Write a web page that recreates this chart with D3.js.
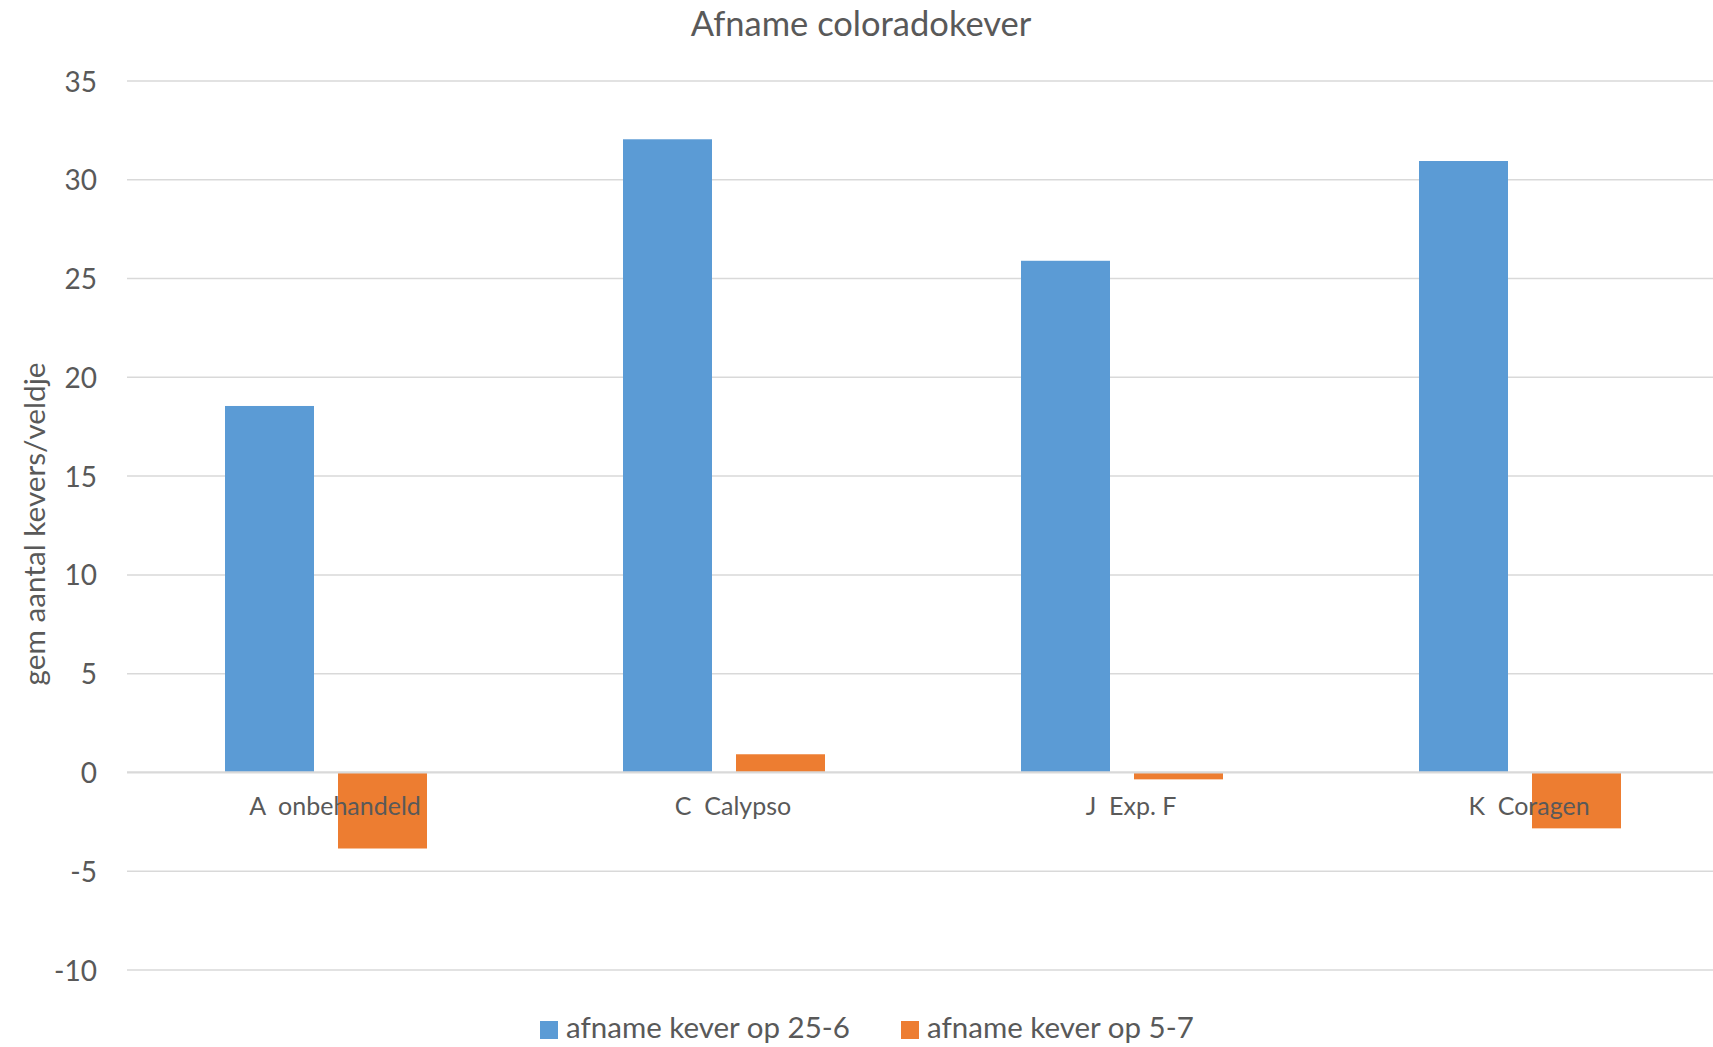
<!DOCTYPE html>
<html><head><meta charset="utf-8">
<script src="https://cdn.jsdelivr.net/npm/d3@7"></script>
<style>body{margin:0;background:#fff}svg{display:block}text{font-family:Lato,"Open Sans",sans-serif;fill:#595959}</style>
</head><body>
<svg id="c" width="1713" height="1047"></svg>
<script>
const categories = ["A  onbehandeld", "C  Calypso", "J  Exp. F", "K  Coragen"];
const seriesNames = ["afname kever op 25-6", "afname kever op 5-7"];
const values256 = [18.55, 32.05, 25.9, 30.95];
const values57 = [-3.85, 0.92, -0.35, -2.83];
const yTicks = [-10, -5, 0, 5, 10, 15, 20, 25, 30, 35];
const colors = ["#5B9BD5", "#ED7D31"];

const svg = d3.select("#c");
const y = d3.scaleLinear().domain([-10, 35]).range([970, 81]);
const x0 = d3.scaleBand().domain(categories).range([128, 1720]).padding(0);
const x1 = d3.scaleBand().domain(seriesNames).range([97, 299]).paddingInner(0.2124).paddingOuter(0);

// gridlines
svg.append("g").selectAll("line").data(yTicks.filter(t => t !== 0)).join("line")
  .attr("x1", 127).attr("x2", 1713)
  .attr("y1", d => y(d)).attr("y2", d => y(d))
  .attr("stroke", "#D9D9D9").attr("stroke-width", 1.5);

// y tick labels
const yAxis = d3.axisLeft(y).tickValues(yTicks).tickSize(0).tickPadding(0).tickFormat(d => String(d));
const ya = svg.append("g").attr("transform", "translate(97,0)").call(yAxis);
ya.select(".domain").remove();
ya.selectAll("text").attr("font-size", 28).attr("fill", "#595959")
  .attr("font-family", "Lato, sans-serif").attr("dy", "0.36em");

// bars
const data = categories.map((c, i) => ({c, vals: [values256[i], values57[i]]}));
const g = svg.append("g");
data.forEach(d => {
  d.vals.forEach((v, j) => {
    g.append("rect")
      .attr("x", x0(d.c) + x1(seriesNames[j]))
      .attr("width", x1.bandwidth())
      .attr("y", v >= 0 ? y(v) : y(0))
      .attr("height", Math.abs(y(v) - y(0)))
      .attr("fill", colors[j]);
  });
});

// zero line
svg.append("line").attr("x1", 127).attr("x2", 1713).attr("y1", y(0)).attr("y2", y(0))
  .attr("stroke", "#D9D9D9").attr("stroke-width", 2.2);

// x axis labels
const xAxis = d3.axisBottom(x0).tickSize(0).tickPadding(0);
const xa = svg.append("g").attr("transform", `translate(8,${y(0) + 43})`).call(xAxis);
xa.select(".domain").remove();
xa.selectAll("text").attr("font-size", 25).attr("fill", "#595959")
  .attr("font-family", "Lato, sans-serif").attr("dy", "0").style("white-space", "pre");

// title
svg.append("text").attr("x", 861).attr("y", 36).attr("text-anchor", "middle")
  .attr("font-size", 34.5).text("Afname coloradokever");

// y title
svg.append("text").attr("transform", "translate(33,524) rotate(-90)")
  .attr("text-anchor", "middle").attr("dominant-baseline", "central")
  .attr("font-size", 29.7).text("gem aantal kevers/veldje");

// legend
const legX = [540, 901];
seriesNames.forEach((s, j) => {
  svg.append("rect").attr("x", legX[j]).attr("y", 1021).attr("width", 18).attr("height", 18).attr("fill", colors[j]);
  svg.append("text").attr("x", legX[j] + 26).attr("y", 1038).attr("font-size", 29.5).text(s);
});
</script>
</body></html>
